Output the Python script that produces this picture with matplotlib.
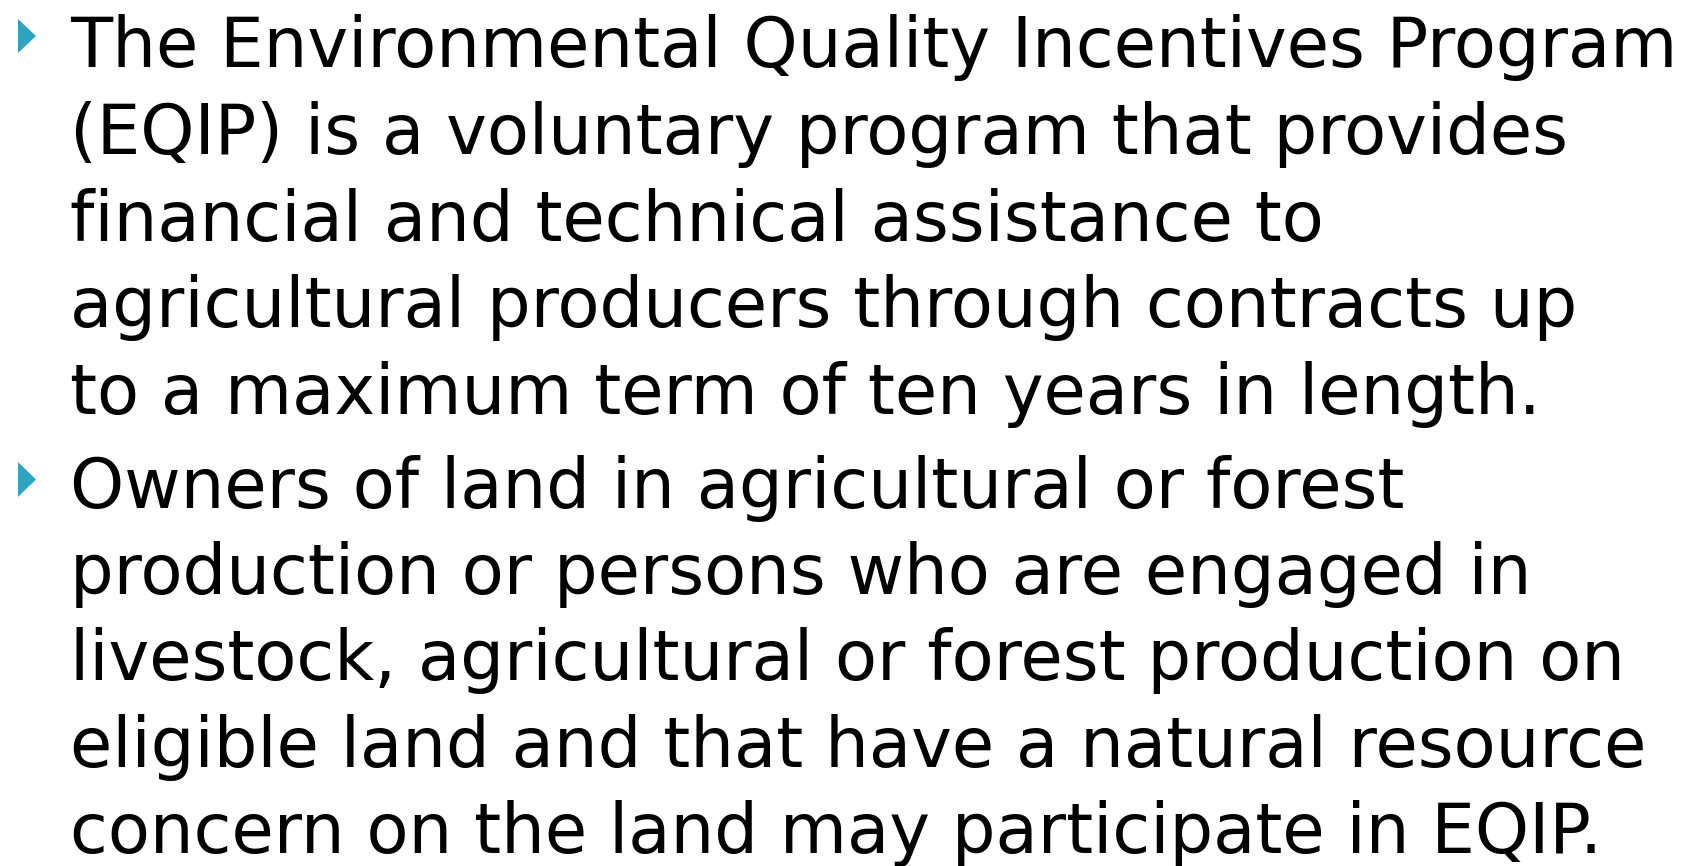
import matplotlib
matplotlib.use("Agg")
import matplotlib.pyplot as plt
from matplotlib.patches import Polygon

W, H = 1694, 866
DPI = 100

bullet1_lines = [
    "The Environmental Quality Incentives Program",
    "(EQIP) is a voluntary program that provides",
    "financial and technical assistance to",
    "agricultural producers through contracts up",
    "to a maximum term of ten years in length.",
]
bullet2_lines = [
    "Owners of land in agricultural or forest",
    "production or persons who are engaged in",
    "livestock, agricultural or forest production on",
    "eligible land and that have a natural resource",
    "concern on the land may participate in EQIP.",
]

fig = plt.figure(figsize=(W / DPI, H / DPI), dpi=DPI)
fig.patch.set_facecolor("white")

def px(x, y):
    return x / W, 1 - y / H

FONT = "DejaVu Sans"
SIZE = 49.6
x_text = 70
bullet_color = "#2AA5C2"

def draw_bullet(y_top, y_bot):
    pts = [px(18, y_top), px(18, y_bot), px(36, (y_top + y_bot) / 2)]
    fig.patches.append(Polygon(pts, closed=True, transform=fig.transFigure,
                               facecolor=bullet_color, edgecolor="none"))

baselines1 = [67 + i * 86.75 for i in range(5)]
baselines2 = [508 + i * 86.25 for i in range(5)]

draw_bullet(19, 53)
draw_bullet(462, 497)

for lines, bases in ((bullet1_lines, baselines1), (bullet2_lines, baselines2)):
    for s, b in zip(lines, bases):
        fig.text(*px(x_text, b), s, fontsize=SIZE, family=FONT,
                 va="baseline", ha="left", color="black")

fig.savefig("out.png", dpi=DPI)
